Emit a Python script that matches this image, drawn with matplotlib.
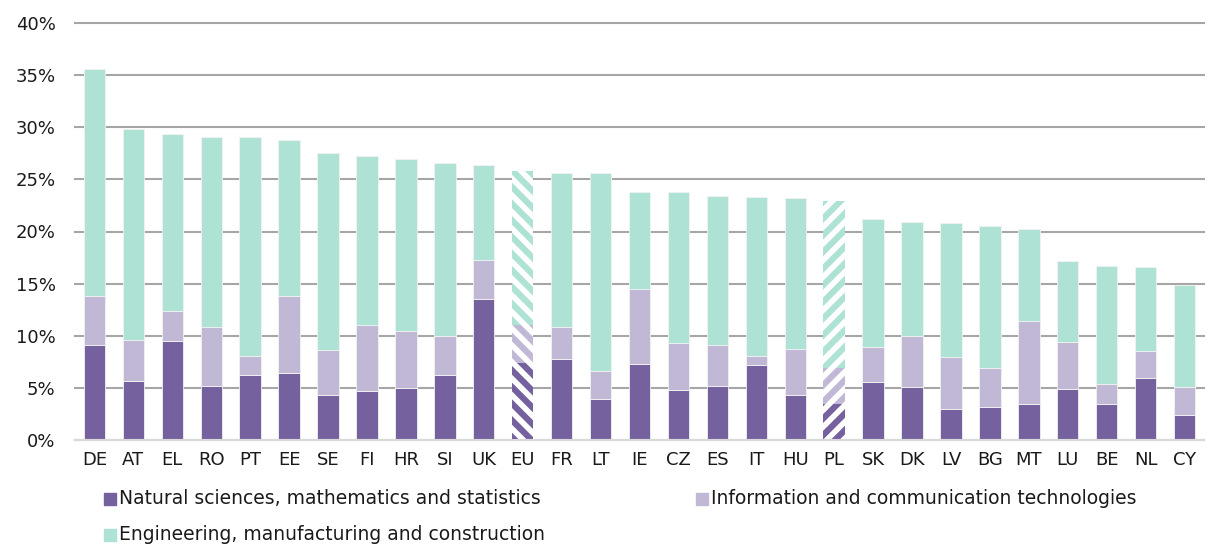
import numpy as np
import matplotlib
matplotlib.use("Agg")
import matplotlib.pyplot as plt
from matplotlib.patches import Rectangle

countries = ["DE", "AT", "EL", "RO", "PT", "EE", "SE", "FI", "HR", "SI", "UK", "EU",
             "FR", "LT", "IE", "CZ", "ES", "IT", "HU", "PL", "SK", "DK", "LV", "BG",
             "MT", "LU", "BE", "NL", "CY"]

# cumulative tops (%)
natural = [9.1, 5.7, 9.5, 5.2, 6.2, 6.4, 4.3, 4.7, 5.0, 6.2, 13.5, 7.4,
           7.8, 3.9, 7.3, 4.8, 5.2, 7.2, 4.3, 3.5, 5.6, 5.1, 3.0, 3.2,
           3.5, 4.9, 3.5, 5.9, 2.4]
ict_top = [13.8, 9.6, 12.4, 10.8, 8.1, 13.8, 8.6, 11.0, 10.5, 10.0, 17.3, 11.0,
           10.8, 6.6, 14.5, 9.3, 9.1, 8.1, 8.7, 6.9, 8.9, 10.0, 8.0, 6.9,
           11.4, 9.4, 5.4, 8.5, 5.1]
total = [35.6, 29.8, 29.4, 29.1, 29.1, 28.8, 27.5, 27.2, 27.0, 26.6, 26.4, 25.8,
         25.6, 25.6, 23.8, 23.8, 23.4, 23.3, 23.2, 22.9, 21.2, 20.9, 20.8, 20.5,
         20.2, 17.2, 16.7, 16.6, 14.9]

labels = ["Natural sciences, mathematics and statistics",
          "Information and communication technologies",
          "Engineering, manufacturing and construction"]

hatched = {"EU": "\\\\", "PL": "//"}

c_nat = "#76619f"
c_ict = "#c1b8d6"
c_eng = "#ade2d5"

plt.rcParams["hatch.linewidth"] = 4.0

nat = np.array(natural) / 100
ict = (np.array(ict_top) - np.array(natural)) / 100
eng = (np.array(total) - np.array(ict_top)) / 100

fig = plt.figure(figsize=(12.08, 5.44), dpi=100)
ax = fig.add_axes([75 / 1208, 104 / 544, 1129 / 1208, 417 / 544])

x = np.arange(len(countries))
w = 0.55
for i, c in enumerate(countries):
    h = hatched.get(c)
    ec = "white" if h else "#f2f2f2"
    lw = 0 if h else 0.6
    ax.bar(x[i], nat[i], w, color=c_nat, edgecolor=ec, linewidth=lw, hatch=h, zorder=3)
    ax.bar(x[i], ict[i], w, bottom=nat[i], color=c_ict, edgecolor=ec, linewidth=lw, hatch=h, zorder=3)
    ax.bar(x[i], eng[i], w, bottom=nat[i] + ict[i], color=c_eng, edgecolor=ec, linewidth=lw, hatch=h, zorder=3)

ax.set_xlim(-0.5, len(countries) - 0.5)
ax.set_ylim(0, 0.40)
ax.set_yticks(np.arange(0, 0.41, 0.05))
ax.set_yticklabels(["%d%%" % v for v in range(0, 41, 5)])
ax.set_xticks(x)
ax.set_xticklabels(countries)
ax.yaxis.grid(True, color="#a6a6a6", linewidth=1.5, zorder=0)
for gl in ax.yaxis.get_gridlines():
    gl.set_clip_on(False)
for s in ["top", "right", "left"]:
    ax.spines[s].set_visible(False)
ax.spines["bottom"].set_color("#d9d9d9")
ax.spines["bottom"].set_linewidth(1.5)
ax.spines["bottom"].set_zorder(4)
ax.tick_params(axis="both", length=0, labelsize=13, colors="#1a1a1a")
ax.tick_params(axis="y", pad=14)
ax.tick_params(axis="x", pad=8)

# legend drawn by hand, row-wise like the original
legend_pos = [(104, 499), (696, 499), (104, 535)]
for (px, py), lab, col in zip(legend_pos, labels, [c_nat, c_ict, c_eng]):
    fig.patches.append(Rectangle((px / 1208, 1 - (py + 6) / 544), 12 / 1208, 12 / 544,
                                 transform=fig.transFigure, color=col))
    fig.text((px + 15) / 1208, 1 - py / 544, lab, fontsize=13.5, va="center",
             ha="left", color="#1a1a1a")

fig.savefig("out.png", dpi=100)
